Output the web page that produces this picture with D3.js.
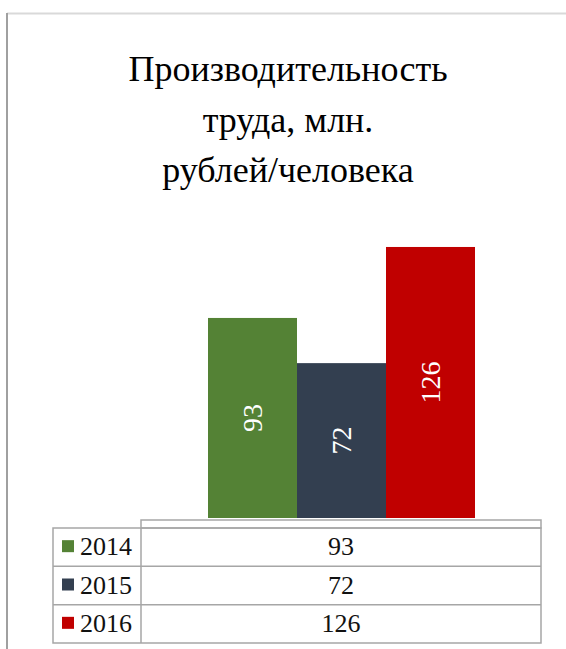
<!DOCTYPE html>
<html>
<head>
<meta charset="utf-8">
<script src="https://cdn.jsdelivr.net/npm/d3@7"></script>
</head>
<body style="margin:0">
<div id="chart"></div>
<script>
const title_lines = ["Производительность", "труда, млн.", "рублей/человека"]
const years = ["2014", "2015", "2016"]
const values = [93, 72, 126]
const colors = ["#548235", "#333f50", "#c00000"]

const width = 566, height = 649
const bar_left = 208, bar_right = 475, base_y = 518, y_max = 140,
    table_left = 53, table_split = 141, table_right = 541,
    table_top = 520, rows_top = 528, rows_bottom = 643,
    grid_color = "#a6a6a6",
    serif = "Liberation Serif"

let svg = d3.select("#chart")
    .append("svg")
    .attr("width", width)
    .attr("height", height)

// outer frame of the chart area (continues past the picture)
svg.append("line")
    .attr("x1", 7).attr("y1", 13.5).attr("x2", width).attr("y2", 13.5)
    .attr("stroke", "#d9d9d9").attr("stroke-width", 2)
svg.append("line")
    .attr("x1", 7).attr("y1", 13).attr("x2", 7).attr("y2", height)
    .attr("stroke", "#a0a0a0").attr("stroke-width", 2)

// title
svg.append("g")
    .selectAll("text")
    .data(title_lines)
    .enter()
    .append("text")
    .attr("x", 288)
    .attr("y", (d, i) => 81 + i * 50.5)
    .attr("text-anchor", "middle")
    .attr("font-family", serif)
    .style("font-family", "'" + serif + "', monospace", "important")
    .style("font-size", "36px")
    .attr("fill", "#000")
    .text(d => d)

let x = d3.scaleBand()
    .domain(years)
    .range([bar_left, bar_right])
    .padding(0)

let y = d3.scaleLinear()
    .domain([0, y_max])
    .range([base_y, base_y - y_max * 2.151])

svg.append("g")
    .selectAll("rect")
    .data(years)
    .enter()
    .append("rect")
    .attr("x", d => x(d))
    .attr("width", x.bandwidth())
    .attr("y", (d, i) => y(values[i]))
    .attr("height", (d, i) => y(0) - y(values[i]))
    .attr("fill", (d, i) => colors[i])

let label_size = 28
svg.append("g")
    .selectAll("text")
    .data(years)
    .enter()
    .append("text")
    .attr("transform", (d, i) => {
        let cx = x(d) + x.bandwidth() / 2
        let cy = (y(values[i]) + y(0)) / 2
        return "translate(" + cx + "," + cy + ") rotate(-90)"
    })
    .attr("y", label_size * 0.34)
    .attr("text-anchor", "middle")
    .attr("font-family", serif)
    .style("font-family", "'" + serif + "', monospace", "important")
    .style("font-size", label_size + "px")
    .attr("fill", "#fff")
    .text((d, i) => values[i])

// data table under the bars
let row = d3.scaleBand()
    .domain(years)
    .range([rows_top, rows_bottom])

let table = svg.append("g")
    .attr("fill", "none")
    .attr("stroke", grid_color)
    .attr("stroke-width", 1.5)

table.append("rect")
    .attr("x", table_split).attr("y", table_top)
    .attr("width", table_right - table_split).attr("height", rows_top - table_top)
table.append("rect")
    .attr("x", table_left).attr("y", rows_top)
    .attr("width", table_right - table_left).attr("height", rows_bottom - rows_top)
table.append("line")
    .attr("x1", table_split).attr("x2", table_split)
    .attr("y1", rows_top).attr("y2", rows_bottom)
table.selectAll(".row-line")
    .data(years.slice(1))
    .enter()
    .append("line")
    .attr("class", "row-line")
    .attr("x1", table_left).attr("x2", table_right)
    .attr("y1", d => row(d)).attr("y2", d => row(d))

let rows = svg.append("g")
    .selectAll("g")
    .data(years)
    .enter()
    .append("g")
    .attr("transform", d => "translate(0," + (row(d) + row.bandwidth() / 2) + ")")

rows.append("rect")
    .attr("x", 62)
    .attr("y", -7)
    .attr("width", 12)
    .attr("height", 12)
    .attr("fill", (d, i) => colors[i])

rows.append("text")
    .attr("x", 80)
    .attr("y", 8)
    .attr("font-family", serif)
    .style("font-family", "'" + serif + "', monospace", "important")
    .style("font-size", "26px")
    .attr("fill", "#111")
    .text(d => d)

rows.append("text")
    .attr("x", (table_split + table_right) / 2)
    .attr("y", 8)
    .attr("text-anchor", "middle")
    .attr("font-family", serif)
    .style("font-family", "'" + serif + "', monospace", "important")
    .style("font-size", "26px")
    .attr("fill", "#111")
    .text((d, i) => values[i])
</script>
</body>
</html>
